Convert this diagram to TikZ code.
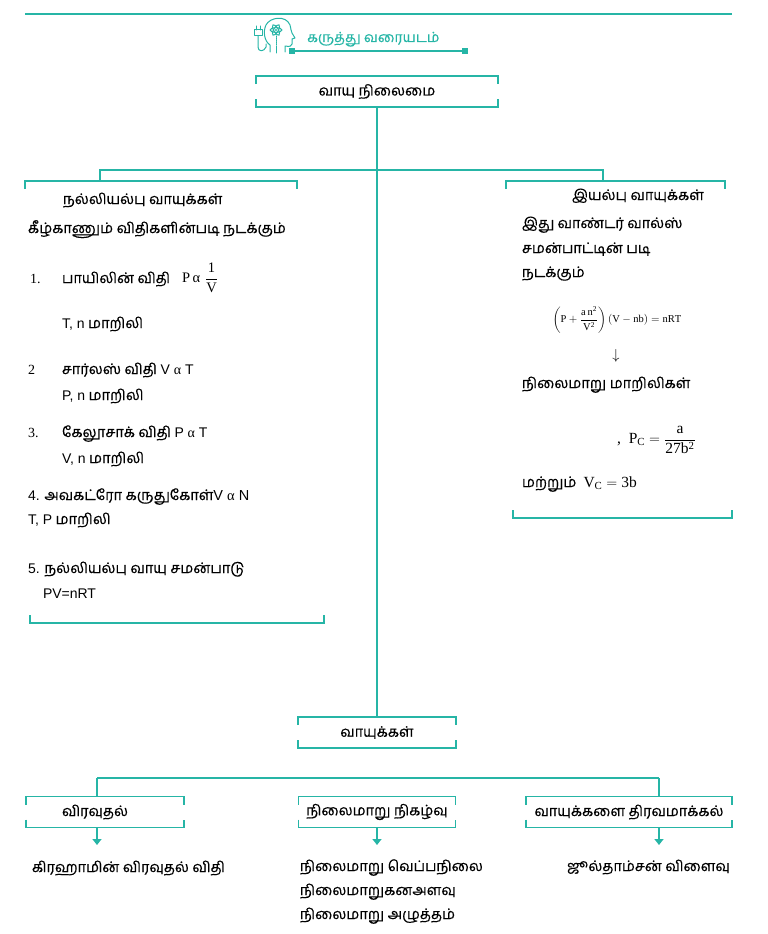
\documentclass[tikz,border=0pt]{standalone}
\usepackage{amsmath}
\usepackage{fontspec}
\setmainfont{Liberation Sans}
\setmathrm{Liberation Serif}
\newfontfamily\ta[Script=Tamil,FakeBold=0.4]{Hind Madurai}
\newfontfamily\tms{Liberation Serif}
\usetikzlibrary{arrows.meta}
\definecolor{teal1}{HTML}{26B5A6}
\newcommand\mybrk[3]{%
 \draw[ln] ([yshift=-#2]#1.north west) -- (#1.north west) -- (#1.north east) -- ([yshift=-#2]#1.north east);
 \draw[ln] ([yshift=#3]#1.south west) -- (#1.south west) -- (#1.south east) -- ([yshift=#3]#1.south east);}
\tikzset{
 ln/.style={draw=teal1, line width=1.8pt},
 tfont/.style={font=\ta\fontsize{14.5}{17}\selectfont},
 txt/.style={anchor=base west, inner sep=0pt, outer sep=0pt, tfont},
 boxn/.style={inner sep=0pt, outer sep=0pt, minimum height=31pt, tfont},
 arr/.style={ln, -{Triangle[width=9pt,length=6pt]}},
}
\begin{document}
\begin{tikzpicture}[x=1pt,y=-1pt]
\useasboundingbox (0,0) rectangle (768,934);
% header
\coordinate (ruleL) at (25,14); \coordinate (ruleR) at (732,14);
\draw[teal1, line width=2.4pt] (ruleL) -- (ruleR);
% icon
\begin{scope}[teal1, line width=1pt, line cap=round, line join=round]
\draw (270,52) -- (270,45) .. controls (264,41) and (263,31) .. (266,25) .. controls (270,17) and (286,15) .. (290,25) .. controls (291,29) and (291,31) .. (292,33) -- (295,38) -- (292,39) -- (292,44) .. controls (292,46) and (290,47) .. (285,46) -- (285,52);
\foreach \a in {0,60,120} \draw[rotate around={\a:(276,30)}] (276,30) ellipse (6 and 2.3);
\fill (276,30) circle (1.1);
\draw[densely dotted] (276,36) -- (276,46);
\draw (276,46) -- (276,53);
\draw (256,26) -- (256,30) (260,26) -- (260,30);
\draw (254,30) rectangle (262,36);
\draw (258,36) -- (258,47) .. controls (258,52) and (264,52) .. (266,47) -- (266,44);
\end{scope}
\node[anchor=base west, inner sep=0pt, font=\ta\fontsize{14}{16}\selectfont, text=teal1] (title) at (307,42) {கருத்து வரையடம்};
\coordinate (ulL) at (292,51); \coordinate (ulR) at (465,51);
\draw[teal1, line width=1.4pt] (ulL) -- (ulR);
\fill[teal1] ([shift={(-3,-3)}]ulL) rectangle ([shift={(3,3)}]ulL);
\fill[teal1] ([shift={(-3,-3)}]ulR) rectangle ([shift={(3,3)}]ulR);
% top box
\node[boxn, minimum width=242pt] (gstate) at (377,91.5) {வாயு நிலைமை};
\mybrk{gstate}{8}{8}
% brackets of ideal / real
\coordinate (iTL) at (25,181); \coordinate (iTR) at (297,181);
\coordinate (iBL) at (30,623); \coordinate (iBR) at (324,623);
\coordinate (rTL) at (506,181); \coordinate (rTR) at (725,181);
\coordinate (rBL) at (513,518); \coordinate (rBR) at (732,518);
\coordinate (iS) at (100,181); \coordinate (rS) at (603,181);
\draw[ln] ([yshift=-8]iTL) -- (iTL) -- (iTR) -- ([yshift=-8]iTR);
\draw[ln] ([yshift=8]iBL) -- (iBL) -- (iBR) -- ([yshift=8]iBR);
\draw[ln] ([yshift=-8]rTL) -- (rTL) -- (rTR) -- ([yshift=-8]rTR);
\draw[ln] ([yshift=8]rBL) -- (rBL) -- (rBR) -- ([yshift=8]rBR);
\draw[ln] (iS) -- ++(0,-11) -| (rS);
% bottom gases
\node[boxn, minimum width=158pt] (gases) at (377,732.5) {வாயுக்கள்};
\mybrk{gases}{8}{8}
\draw[ln] (gstate.south) -- (gases.north);
% left texts
\node[txt] (i1) at (63,204) {நல்லியல்பு வாயுக்கள்};
\node[txt] (i2) at (28,233) {கீழ்காணும் விதிகளின்படி நடக்கும்};
\node[txt, font=\tms\fontsize{14}{16}\selectfont] (i3a) at (30,283) {1.};
\node[txt] (i3b) at (62,283) {பாயிலின் விதி};
\node[anchor=west, inner sep=0pt, font=\tms\fontsize{14.5}{17}\selectfont] (i3c) at (182,278) {P\,α\,\,$\dfrac{\text{\tms 1}}{\text{\tms V}}$};
\node[txt] (i4) at (62,328) {{\rmfamily\fontsize{14}{16}\selectfont T, n} மாறிலி};
\node[txt, font=\tms\fontsize{14}{16}\selectfont] (i5a) at (28,374) {2};
\node[txt] (i5b) at (62,374) {சார்லஸ் விதி {\rmfamily\fontsize{14}{16}\selectfont V {\tms α} T}};
\node[txt] (i6) at (62,400) {{\rmfamily\fontsize{14}{16}\selectfont P, n} மாறிலி};
\node[txt, font=\tms\fontsize{14}{16}\selectfont] (i7a) at (28,437) {3.};
\node[txt] (i7b) at (62,437) {கேலூசாக் விதி {\rmfamily\fontsize{14}{16}\selectfont P {\tms α} T}};
\node[txt] (i8) at (62,463) {{\rmfamily\fontsize{14}{16}\selectfont V, n} மாறிலி};
\node[txt] (i9) at (28,500) {{\rmfamily\fontsize{14}{16}\selectfont 4.} அவகட்ரோ கருதுகோள்{\rmfamily\fontsize{14.5}{16}\selectfont V {\tms α} N}};
\node[txt] (i10) at (28,524) {{\rmfamily\fontsize{14}{16}\selectfont T, P} மாறிலி};
\node[txt] (i11) at (28,573) {{\rmfamily\fontsize{14}{16}\selectfont 5.} நல்லியல்பு வாயு சமன்பாடு};
\node[txt, font=\rmfamily\fontsize{14}{16}\selectfont] (i12) at (43,598) {PV=nRT};
% right texts
\node[txt] (r1) at (572,200) {இயல்பு வாயுக்கள்};
\node[txt] (r2) at (522,228) {இது வாண்டர் வால்ஸ்};
\node[txt] (r3) at (522,253) {சமன்பாட்டின் படி};
\node[txt] (r4) at (522,277) {நடக்கும்};
\node[inner sep=0pt, font=\tms\fontsize{10.5}{12}\selectfont] (r5) at (617,320) {$\left(\mathrm{P}+\dfrac{\mathrm{a\,n^2}}{\mathrm{V^2}}\right)(\mathrm{V}-\mathrm{nb})=\mathrm{nRT}$};
\node[inner sep=0pt, font=\fontsize{14}{16}\selectfont] (r6) at (616,356) {$\downarrow$};
\node[txt] (r7) at (522,388) {நிலைமாறு மாறிலிகள்};
\node[anchor=west, inner sep=0pt, font=\tms\fontsize{15.5}{18}\selectfont] (r8) at (617,440) {,\ \ $\mathrm{P_C}=\dfrac{\mathrm{a}}{\mathrm{27b^2}}$};
\node[txt] (r9) at (522,487) {மற்றும்\ \ {\tms\fontsize{15.5}{18}\selectfont $\mathrm{V_C}=\mathrm{3b}$}};
% bottom boxes
\node[boxn, minimum width=158pt] (diff) at (105,812) {\hspace*{-20pt}விரவுதல்};
\node[boxn, minimum width=157pt] (crit) at (377,812) {நிலைமாறு நிகழ்வு};
\node[boxn, minimum width=206pt] (liq) at (629,812) {வாயுக்களை திரவமாக்கல்};
\mybrk{diff}{8}{8}
\mybrk{crit}{8}{8}
\mybrk{liq}{8}{8}
\coordinate (bL) at (97,778); \coordinate (bR) at (659,778);
\draw[ln] (bL) -- (bR);
\draw[ln] (bL) -- (bL |- diff.north);
\draw[ln] (bR) -- (bR |- liq.north);
\coordinate (aL) at (97,845); \coordinate (aM) at (377,845); \coordinate (aR) at (659,845);
\draw[arr] (bL |- diff.south) -- (aL);
\draw[arr] (crit.south) -- (aM);
\draw[arr] (bR |- liq.south) -- (aR);
\node[txt] (d1) at (32,872) {கிரஹாமின் விரவுதல் விதி};
\node[txt] (c1) at (300,871) {நிலைமாறு வெப்பநிலை};
\node[txt] (c2) at (300,895) {நிலைமாறுகனஅளவு};
\node[txt] (c3) at (300,919) {நிலைமாறு அழுத்தம்};
\node[txt] (l1) at (567,871) {ஜூல்தாம்சன் விளைவு};
\end{tikzpicture}
\end{document}
